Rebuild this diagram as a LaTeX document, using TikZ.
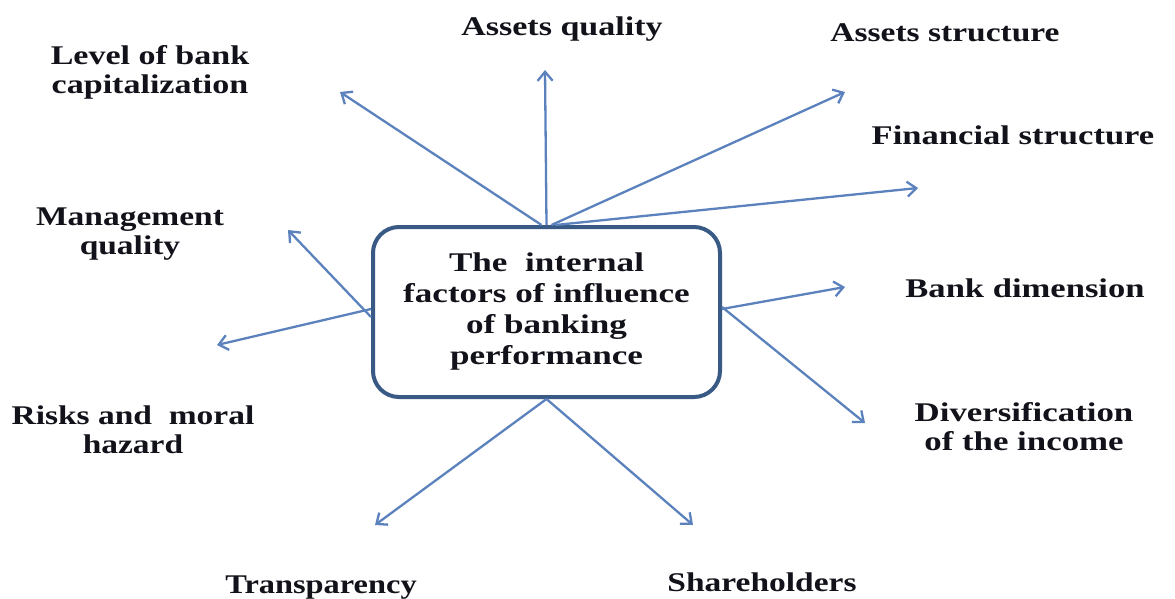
\documentclass[tikz,border=0pt]{standalone}
\usepackage{fontspec}
\setmainfont{Liberation Serif}
\usetikzlibrary{arrows.meta}
\definecolor{arrowblue}{RGB}{92,130,190}
\definecolor{boxblue}{RGB}{58,90,134}
\definecolor{txt}{RGB}{18,18,26}
\newcommand{\lab}[2]{\scalebox{#1}[1]{\begin{tabular}[t]{@{}c@{}}#2\end{tabular}}}
\begin{document}
\begin{tikzpicture}[x=1pt,y=-1pt,
  factor/.style={font=\fontsize{27}{29}\selectfont\bfseries, text=txt, inner sep=0pt, anchor=base},
  conn/.style={draw=arrowblue, line width=2.3pt, -{Straight Barb[length=9pt,width=15pt,line width=2.3pt]}},
  hub/.style={draw=boxblue, line width=4pt, rounded corners=26pt, fill=white,
    minimum width=347pt, minimum height=170pt, inner sep=0pt,
    font=\fontsize{27}{31}\selectfont\bfseries, text=txt}]
\useasboundingbox (0,0) rectangle (1175,599);
\fill[white] (0,0) rectangle (1175,599);

% hub
\node[hub] (box) at (546.5,312) {\scalebox{1.30}[1]{\begin{tabular}{@{}c@{}}The\ \ internal\\factors of influence\\of banking\\performance\end{tabular}}};

% labels
\node[factor] (cap) at (150,65) {\lab{1.26}{Level of bank\\capitalization}};
\node[factor] (aq) at (562,36) {\lab{1.26}{Assets quality}};
\node[factor] (as) at (945,42) {\lab{1.24}{Assets structure}};
\node[factor] (fs) at (1013,145) {\lab{1.28}{Financial structure}};
\node[factor] (bd) at (1025,297) {\lab{1.28}{Bank dimension}};
\node[factor] (di) at (1024,421) {\lab{1.29}{Diversification\\of the income}};
\node[factor] (mq) at (130,225) {\lab{1.24}{Management\\quality}};
\node[factor] (rm) at (133,424) {\lab{1.24}{Risks and\ \ moral\\hazard}};
\node[factor] (tr) at (321,593) {\lab{1.2}{Transparency}};
\node[factor] (sh) at (762,591) {\lab{1.24}{Shareholders}};

% arrow ends
\coordinate (ecap) at (340,92);
\coordinate (eaq) at (545,70);
\coordinate (eas) at (845,92);
\coordinate (efs) at (918,188);
\coordinate (ebd) at (845,287);
\coordinate (edi) at (865,423);
\coordinate (emq) at (288,230);
\coordinate (erm) at (217,345);
\coordinate (etr) at (375,525);
\coordinate (esh) at (693,525);

% connectors
\draw[conn] ([xshift=-5pt]box.north) -- (ecap);
\draw[conn] (box.north) -- (eaq);
\draw[conn] ([xshift=5pt]box.north) -- (eas);
\draw[conn] ([xshift=9pt]box.north) -- (efs);
\draw[conn] ([yshift=3pt]box.east) -- (ebd);
\draw[conn] ([yshift=5pt]box.east) -- (edi);
\draw[conn] ([yshift=-5pt]box.west) -- (emq);
\draw[conn] ([yshift=3pt]box.west) -- (erm);
\draw[conn] (box.south) -- (etr);
\draw[conn] (box.south) -- (esh);
\end{tikzpicture}
\end{document}
